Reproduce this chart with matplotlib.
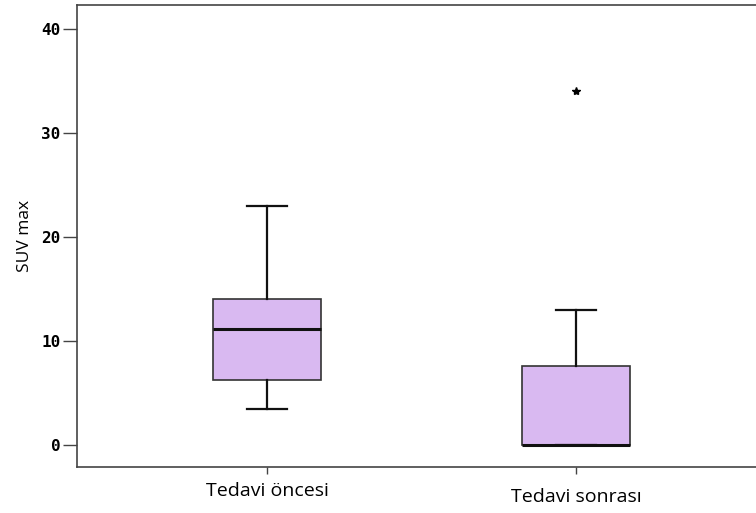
import matplotlib
matplotlib.use("Agg")
import matplotlib.pyplot as plt

categories = ["Tedavi öncesi", "Tedavi sonrası"]
whislo = [3.5, 0.0]
q1 = [6.3, 0.0]
med = [11.2, 0.0]
q3 = [14.0, 7.6]
whishi = [23.0, 13.0]
fliers = [[], [34.0]]
yticks = [0, 10, 20, 30, 40]

fig = plt.figure(figsize=(7.56, 5.13), dpi=100)
ax = fig.add_axes([0.1019, 0.0897, 0.8995, 0.9006])

stats = []
for i, c in enumerate(categories):
    stats.append(dict(label=c, whislo=whislo[i], q1=q1[i], med=med[i],
                      q3=q3[i], whishi=whishi[i], fliers=fliers[i]))

ax.bxp(stats, positions=[1, 2], widths=0.35, patch_artist=True,
       boxprops=dict(facecolor="#D9B9F1", edgecolor="#333333", linewidth=1.2),
       medianprops=dict(color="#111111", linewidth=2.2),
       whiskerprops=dict(color="#111111", linewidth=1.6),
       capprops=dict(color="#111111", linewidth=1.6),
       capwidths=0.13,
       flierprops=dict(marker="*", markersize=6, markerfacecolor="black",
                       markeredgecolor="black"))

ax.set_xlim(0.385, 2.585)
ax.set_ylim(-2.1, 42.3)
ax.set_yticks(yticks)
ax.set_yticklabels([str(t) for t in yticks], fontfamily="DejaVu Sans Mono",
                   fontweight="bold", fontsize=11.5)
ax.set_xticks([1, 2])
ax.set_xticklabels(categories, fontfamily="Open Sans", fontsize=14)
labs = ax.get_xticklabels()
labs[1].set_y(-0.012)
ax.tick_params(axis="y", length=10, width=1, color="#444444", pad=2)
ax.tick_params(axis="x", length=5, width=1, color="#444444", pad=6)
ax.set_ylabel("SUV max", fontfamily="Open Sans", fontsize=12.5, labelpad=6)
for s in ax.spines.values():
    s.set_color("#444444")
    s.set_linewidth(1.2)

fig.savefig("out.png", dpi=100)
